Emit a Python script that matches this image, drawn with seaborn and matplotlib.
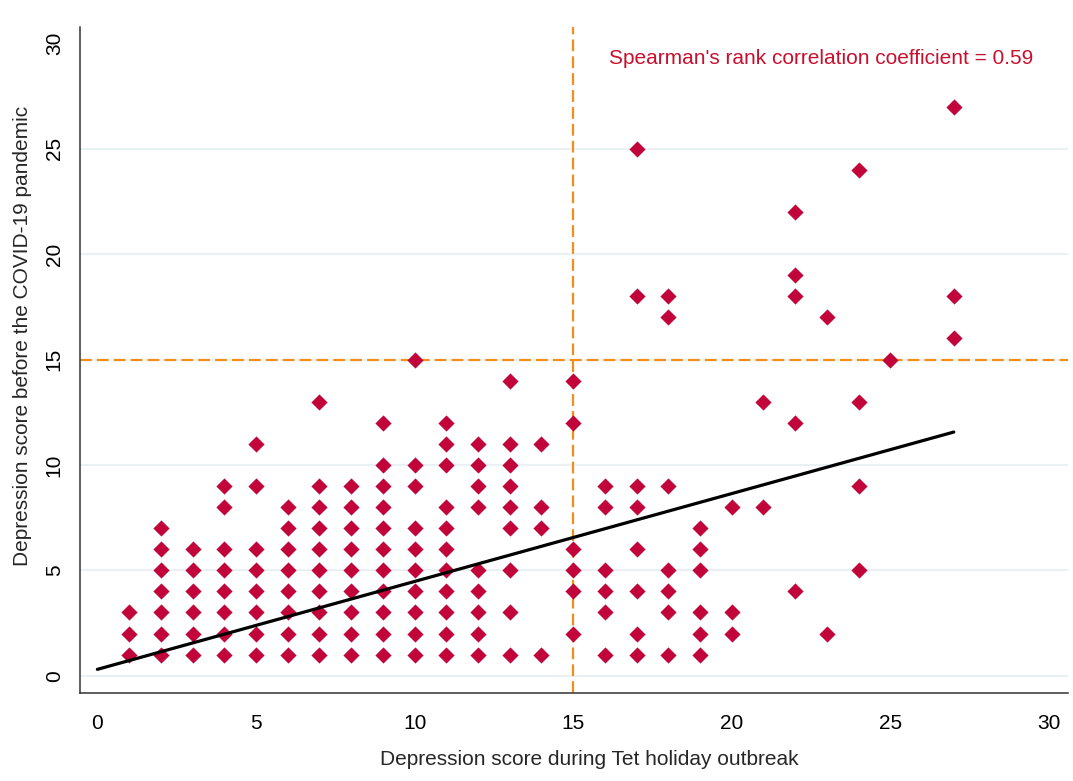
import numpy as np
import pandas as pd
import matplotlib
matplotlib.use("Agg")
import matplotlib.pyplot as plt
import seaborn as sns

# depression scores (during Tet outbreak vs before COVID-19), unique visible points
tet_score = [1, 1, 1,
             2, 2, 2, 2, 2, 2, 2,
             3, 3, 3, 3, 3, 3,
             4, 4, 4, 4, 4, 4, 4, 4,
             5, 5, 5, 5, 5, 5, 5, 5,
             6, 6, 6, 6, 6, 6, 6, 6,
             7, 7, 7, 7, 7, 7, 7, 7, 7, 7,
             8, 8, 8, 8, 8, 8, 8, 8, 8,
             9, 9, 9, 9, 9, 9, 9, 9, 9, 9, 9,
             10, 10, 10, 10, 10, 10, 10, 10, 10, 10,
             11, 11, 11, 11, 11, 11, 11, 11, 11, 11, 11,
             12, 12, 12, 12, 12, 12, 12, 12, 12,
             13, 13, 13, 13, 13, 13, 13, 13, 13,
             14, 14, 14, 14,
             15, 15, 15, 15, 15, 15,
             16, 16, 16, 16, 16, 16,
             17, 17, 17, 17, 17, 17, 17, 17,
             18, 18, 18, 18, 18, 18, 18,
             19, 19, 19, 19, 19, 19,
             20, 20, 20,
             21, 21,
             22, 22, 22, 22, 22,
             23, 23,
             24, 24, 24, 24,
             25,
             27, 27, 27]
before_score = [1, 2, 3,
                1, 2, 3, 4, 5, 6, 7,
                1, 2, 3, 4, 5, 6,
                1, 2, 3, 4, 5, 6, 8, 9,
                1, 2, 3, 4, 5, 6, 9, 11,
                1, 2, 3, 4, 5, 6, 7, 8,
                1, 2, 3, 4, 5, 6, 7, 8, 9, 13,
                1, 2, 3, 4, 5, 6, 7, 8, 9,
                1, 2, 3, 4, 5, 6, 7, 8, 9, 10, 12,
                1, 2, 3, 4, 5, 6, 7, 9, 10, 15,
                1, 2, 3, 4, 5, 6, 7, 8, 10, 11, 12,
                1, 2, 3, 4, 5, 8, 9, 10, 11,
                1, 3, 5, 7, 8, 9, 10, 11, 14,
                1, 7, 8, 11,
                2, 4, 5, 6, 12, 14,
                1, 3, 4, 5, 8, 9,
                1, 2, 4, 6, 8, 9, 18, 25,
                1, 3, 4, 5, 9, 17, 18,
                1, 2, 3, 5, 6, 7,
                2, 3, 8,
                8, 13,
                4, 12, 18, 19, 22,
                2, 17,
                5, 9, 13, 24,
                15,
                16, 18, 27]

# linear fit
fit_intercept = 0.30
fit_slope = 0.417
fit_range = [0, 27]

cutoff = 15
ticks = [0, 5, 10, 15, 20, 25, 30]
spearman_text = "Spearman's rank correlation coefficient = 0.59"

df = pd.DataFrame({"tet": tet_score, "before": before_score})
fit = pd.DataFrame({"tet": fit_range})
fit["before"] = fit_intercept + fit_slope * fit["tet"]

sns.set_style("white")
plt.rcParams['font.family'] = ['Liberation Sans', 'DejaVu Sans']

red = "#C1043A"
orange = "#F28E1C"

fig = plt.figure(figsize=(10.73, 7.81), dpi=100)
ax = fig.add_axes([0.0746, 0.1131, 0.9207, 0.8527])

# light horizontal grid (not at the top tick)
for t in ticks[:-1]:
    ax.axhline(t, color="#EAF1F3", lw=1.5, zorder=0)

ax.axhline(cutoff, color=orange, lw=1.6, dashes=(5.3, 2.3), zorder=1)
ax.axvline(cutoff, color=orange, lw=1.6, dashes=(5.3, 2.3), zorder=1)

sns.scatterplot(data=df, x="tet", y="before", marker="D", s=68,
                color=red, edgecolor=red, linewidth=0, ax=ax, zorder=2)
sns.lineplot(data=fit, x="tet", y="before", color="black", lw=2.3, ax=ax, zorder=3)

ax.set_xlim(-0.547, 30.6)
ax.set_ylim(-0.806, 30.79)
ax.set_xticks(ticks)
ax.set_yticks(ticks)
ax.set_yticklabels([str(t) for t in ticks], rotation=90, va="center")
ax.tick_params(axis="both", direction="out", length=7.7, width=1.1,
               color="#333333", labelsize=15, labelcolor="black")
ax.tick_params(axis="x", pad=8)
ax.tick_params(axis="y", pad=4)

for side in ["top", "right"]:
    ax.spines[side].set_visible(False)
for side in ["left", "bottom"]:
    ax.spines[side].set_color("#333333")
    ax.spines[side].set_linewidth(1.1)

ax.set_xlabel("Depression score during Tet holiday outbreak", fontsize=15, va="center")
ax.set_ylabel("Depression score before the COVID-19 pandemic", fontsize=15, va="center")
ax.xaxis.set_label_coords(0.515, -0.101)
ax.yaxis.set_label_coords(-0.0587, 0.5356)

ax.text(29.5, 29.3, spearman_text, color="#C8102E", fontsize=15,
        ha="right", va="center")

fig.savefig("out.png", dpi=100)
